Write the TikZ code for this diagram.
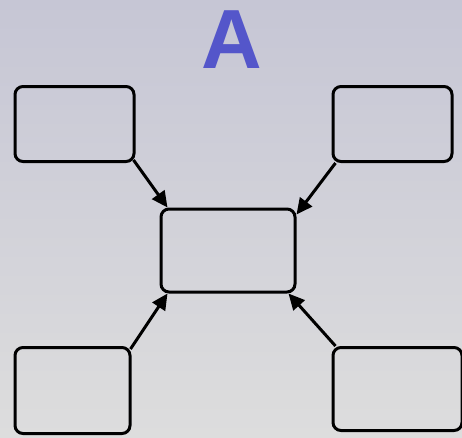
\documentclass[tikz,border=0pt]{standalone}
\usepackage{fontspec}
\setmainfont{Liberation Sans}
\usepackage{tikz}
\usetikzlibrary{
    arrows.meta,
    positioning
}
\definecolor{bgtop}{RGB}{198,198,213}
\definecolor{bgbottom}{RGB}{221,221,221}
\definecolor{titleblue}{RGB}{84,86,202}

\begin{document}
\begin{tikzpicture}[x=1pt, y=-1pt,
        box/.style={draw=black, line width=3pt, rounded corners=8pt, inner sep=0pt},
        link/.style={line width=3pt, -{Triangle[length=16pt, width=15pt]}}]

        % background
        \shade[top color=bgtop, bottom color=bgbottom] (0,0) rectangle (462,437);
        \useasboundingbox (0,0) rectangle (462,437);

        \node[font=\bfseries\fontsize{84}{84}\selectfont, text=titleblue, anchor=base] (title) at (231.5,68) {A};

        \node[box, minimum width=119pt, minimum height=75pt] (tl) at (74.5,124) {};
        \node[box, minimum width=119pt, minimum height=75pt] (tr) at (392.5,124) {};
        \node[box, minimum width=134pt, minimum height=83pt] (center) at (228,250.5) {};
        \node[box, minimum width=115pt, minimum height=86pt] (bl) at (72.5,390.5) {};
        \node[box, minimum width=129pt, minimum height=83pt] (br) at (397.5,389) {};

        \draw[link] ([xshift=-2pt, yshift=3pt]tl.south east) -- ([xshift=8pt]center.north west);
        \draw[link] ([xshift=4pt]tr.south west) -- ([yshift=-7pt]center.north east);
        \draw[link] ([xshift=-1pt, yshift=-3pt]bl.north east) -- ([xshift=8pt]center.south west);
        \draw[link] ([xshift=4pt]br.north west) -- ([xshift=-8pt]center.south east);
    \end{tikzpicture}
\end{document}
